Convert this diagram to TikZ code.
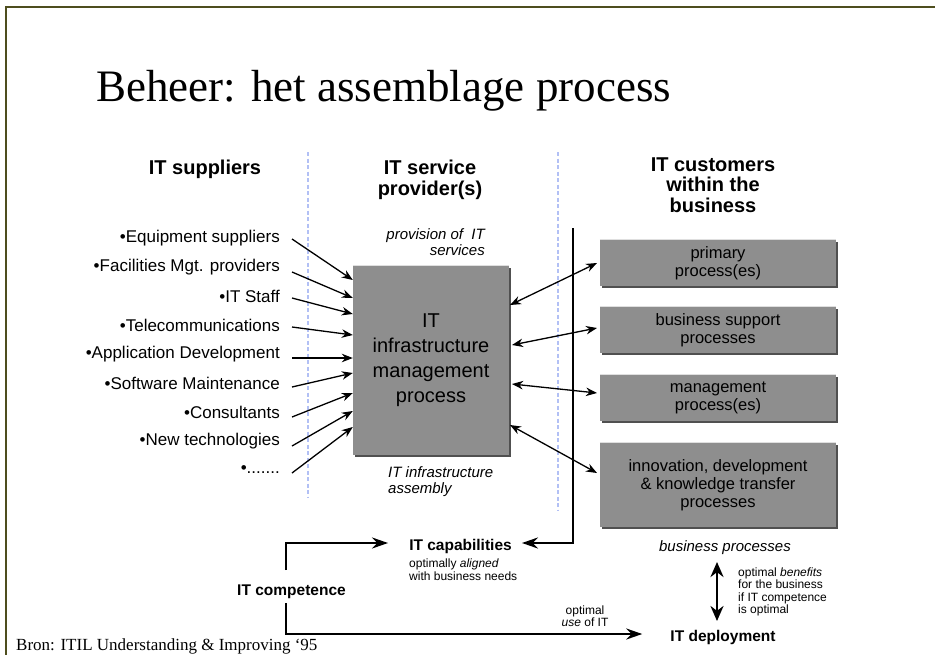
\documentclass[tikz,border=0pt]{standalone}
\usepackage{fontspec}
\setmainfont{Liberation Sans}
\newfontfamily\serifrm{Liberation Serif}
\usetikzlibrary{arrows.meta,shadows}
\definecolor{framecol}{RGB}{78,78,30}
\definecolor{boxgray}{RGB}{142,142,142}
\definecolor{shadowgray}{RGB}{80,80,80}
\definecolor{dashblue}{RGB}{178,192,245}
\begin{document}
\begin{tikzpicture}[x=1pt,y=-1pt,
  suppl/.style={anchor=east,inner sep=0pt,font=\fontsize{17}{20}\selectfont},
  hdr/.style={align=center,inner sep=0pt,font=\fontsize{20}{20.5}\selectfont\bfseries},
  gbox/.style={fill=boxgray,inner sep=0pt,align=center,
    drop shadow={shadow xshift=2pt,shadow yshift=-2pt,fill=shadowgray,opacity=1}},
  rbox/.style={gbox,minimum width=236pt,font=\fontsize{16.5}{18}\selectfont},
  supparrow/.style={line width=1.3pt,-{Stealth[length=11pt,width=8.5pt]}},
  dblarrow/.style={line width=1.3pt,{Stealth[length=11pt,width=8.5pt]}-{Stealth[length=11pt,width=8.5pt]}},
  bigarrow/.style={line width=2.2pt,-{Stealth[length=16pt,width=11pt]}},
  sepline/.style={dashblue,line width=1.1pt,dash pattern=on 4pt off 2.5pt},
  boldlbl/.style={inner sep=0pt,font=\fontsize{15.5}{18}\selectfont\bfseries},
  smalllbl/.style={inner sep=0pt,font=\fontsize{12}{12.5}\selectfont},
  itlbl/.style={inner sep=0pt,font=\fontsize{15}{16.5}\selectfont\itshape},
]
\useasboundingbox (0,0) rectangle (935,654);
\fill[white] (0,0) rectangle (935,654);
% frame
\draw[framecol,line width=2.2pt] (6,660) -- (6,7) -- (940,7);
% title
\node[anchor=base west,inner sep=0pt,font=\serifrm\fontsize{45}{50}\selectfont] (title) at (96,101) {Beheer: het assemblage process};
% column headers
\node[hdr] (h1) at (205,169) {IT suppliers};
\node[hdr] (h2) at (430,180) {IT service\\provider(s)};
\node[hdr] (h3) at (713,185) {IT customers\\within the\\business};
% separators
\coordinate (sa) at (308,152); \coordinate (sb) at (308,497);
\coordinate (sc) at (558,152); \coordinate (sd) at (558,510);
\draw[sepline] (sa) -- (sb);
\draw[sepline] (sc) -- (sd);
% suppliers
\node[suppl] (s1) at (280,238) {•Equipment suppliers};
\node[suppl] (s2) at (280,267) {•Facilities Mgt. providers};
\node[suppl] (s3) at (280,296) {•IT Staff};
\node[suppl] (s4) at (280,325) {•Telecommunications};
\node[suppl] (s5) at (280,354) {•Application Development};
\node[suppl] (s6) at (280,383) {•Software Maintenance};
\node[suppl] (s7) at (280,412) {•Consultants};
\node[suppl] (s8) at (280,441) {•New technologies};
\node[suppl] (s9) at (280,470) {•.......};
% main box
\node[gbox,minimum width=156pt,minimum height=189pt,font=\fontsize{20}{25}\selectfont] (itm) at (431,360.5) {IT\\infrastructure\\management\\process};
\draw[white!75!gray,line width=0.8pt] (itm.north west) -- (itm.north east);
% supplier arrows
\foreach \i/\ys/\ye in {1/239/280,2/272/298,3/298/314,4/327/335,5/358/358,6/387/373,7/417/393,8/446/411,9/473/427}{
  \coordinate (a\i) at (292,\ys);
  \coordinate (b\i) at (itm.west |- 0,\ye);
  \draw[supparrow] (a\i) -- (b\i);
}
% labels around main box
\node[itlbl,align=right,anchor=east] (prov) at (485,242) {provision of \ IT\\services};
\node[itlbl,align=left,anchor=west] (asm) at (388,481.5) {IT infrastructure\\assembly};
% right boxes
\node[rbox,minimum height=46pt] (r1) at (718,263) {primary\\process(es)};
\node[rbox,minimum height=46pt] (r2) at (718,330) {business support\\processes};
\node[rbox,minimum height=46pt] (r3) at (718,398) {management\\process(es)};
\node[rbox,minimum height=84pt] (r4) at (718,485) {innovation, development\\\& knowledge transfer\\processes};
\foreach \r in {r1,r2,r3,r4}{\draw[white!75!gray,line width=0.8pt] (\r.north west) -- (\r.north east);}
% double arrows
\coordinate (c1) at (510,305); \coordinate (e1) at (597,263);
\coordinate (c2) at (512,345); \coordinate (e2) at (597,328);
\coordinate (c3) at (512,384); \coordinate (e3) at (597,393);
\coordinate (c4) at (510,425); \coordinate (e4) at (597,473);
\draw[dblarrow] (c1) -- (e1);
\draw[dblarrow] (c2) -- (e2);
\draw[dblarrow] (c3) -- (e3);
\draw[dblarrow] (c4) -- (e4);
% bottom labels
\node[boldlbl] (cap) at (460.5,546) {IT capabilities};
\node[smalllbl,align=left,anchor=north west] (capnote) at (409,559) {optimally \textit{aligned}\\with business needs};
\node[boldlbl] (comp) at (291.5,592) {IT competence};
\node[boldlbl] (depl) at (723,637) {IT deployment};
\node[itlbl] (bp) at (725,548) {business processes};
\node[smalllbl,align=center] (usenote) at (585,616) {optimal\\\textit{use} of IT};
\node[smalllbl,align=left,anchor=west] (bennote) at (738,592) {optimal \textit{benefits}\\for the business\\if IT competence\\is optimal};
% customer vertical line and arrow to capabilities
\coordinate (vtop) at (573,228);
\coordinate (vbot) at (573,543);
\draw[bigarrow,line cap=butt] (vtop) -- (vbot) -- ([xshift=10pt]cap.east |- vbot);
% competence arrows
\coordinate (k1) at (286,570);
\coordinate (k2) at (286,543);
\coordinate (k3) at (286,603);
\coordinate (k4) at (286,634);
\draw[bigarrow] (k1) -- (k2) -- ([xshift=-21pt]cap.west |- k2);
\draw[bigarrow] (k3) -- (k4) -- ([xshift=-28pt]depl.west |- k4);
% vertical double arrow
\coordinate (v1) at (717,562);
\coordinate (v2) at (717,621);
\draw[line width=2.8pt,{Stealth[length=15pt,width=13pt]}-{Stealth[length=15pt,width=13pt]}] (v1) -- (v2);
% source
\node[anchor=base west,inner sep=0pt,font=\serifrm\fontsize{17}{20}\selectfont] (src) at (16,650) {Bron: ITIL Understanding \& Improving ‘95};
\end{tikzpicture}
\end{document}
